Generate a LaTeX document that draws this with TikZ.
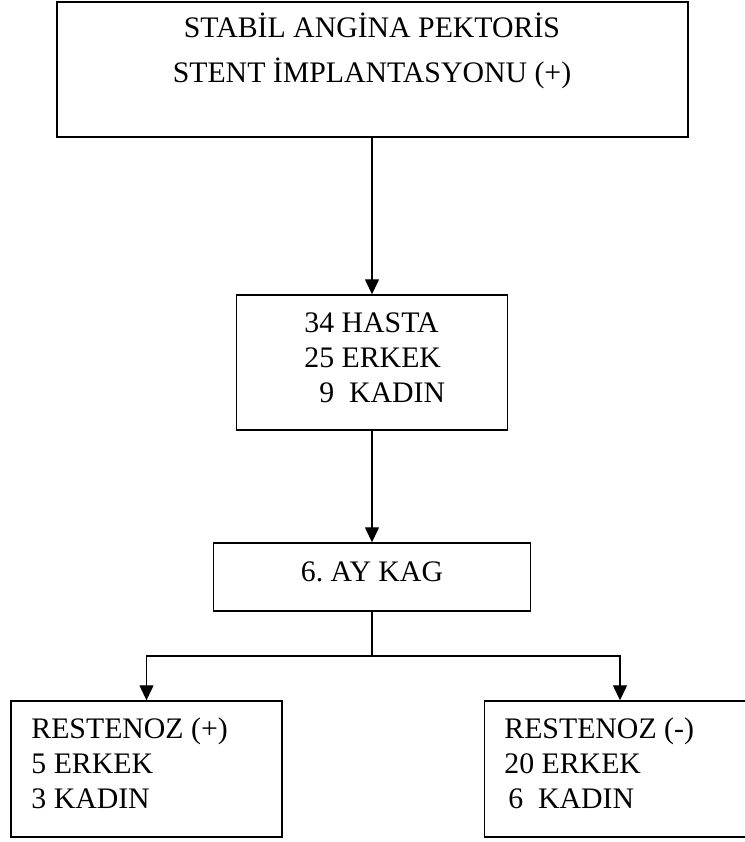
\documentclass[tikz,border=0pt]{standalone}
\usepackage{fontspec}
\setmainfont{Liberation Serif}
\usetikzlibrary{arrows.meta,positioning}
\tikzset{
  boxnode/.style={draw, line width=0.7pt, inner sep=0pt},
  txtnode/.style={inner sep=0pt, font=\fontsize{14.9pt}{17.5pt}\selectfont},
  flowln/.style={-{Triangle[length=7.5pt,width=7pt]}, line width=0.65pt},
  plainln/.style={line width=0.65pt},
}

\begin{document}
\begin{tikzpicture}[x=0.5pt, y=-0.5pt]
    % Page frame (the right box runs off the page)
    \clip (0,0) rectangle (745,842);
    % Boxes
    \node[boxnode, line width=1pt, minimum width=315.5pt, minimum height=67.5pt] (topbox) at (372,69.5) {};
    \node[boxnode, minimum width=135.5pt, minimum height=67.5pt] (hastabox) at (372,362.5) {};
    \node[boxnode, minimum width=158.5pt, minimum height=34pt] (kagbox) at (372,577) {};
    \node[boxnode, minimum width=135.5pt, minimum height=68pt] (posbox) at (146.5,769) {};
    \node[boxnode, minimum width=135.5pt, minimum height=68pt] (negbox) at (620,769) {};
    % Texts (base = last line)
    \node[txtnode, align=center, anchor=base] (toptxt) at (372,82)
      {STABİL ANGİNA PEKTORİS\\[5pt] STENT İMPLANTASYONU (+)};
    \node[txtnode, align=left, anchor=base west] (hastatxt) at (304,402)
      {34 HASTA\\ 25 ERKEK\\ \phantom{3}9~~KADIN};
    \node[txtnode, anchor=base] (kagtxt) at (372,581) {6.\ AY KAG};
    \node[txtnode, align=left, anchor=base west] (postxt) at (31,808)
      {RESTENOZ (+)\\ 5 ERKEK\\ 3 KADIN};
    \node[txtnode, align=left, anchor=base west] (negtxt) at (504,808)
      {RESTENOZ (-)\\ 20 ERKEK\\ \hspace{2pt}6~~KADIN};
    % Connectors
    \draw[flowln] (topbox) -- (hastabox);
    \draw[flowln] (hastabox) -- (kagbox);
    \coordinate (split) at (372,656);
    \draw[plainln] (kagbox.south) -- (split);
    \draw[flowln] (split) -| (posbox.north);
    \draw[flowln] (split) -| (negbox.north);
  \end{tikzpicture}
\end{document}
